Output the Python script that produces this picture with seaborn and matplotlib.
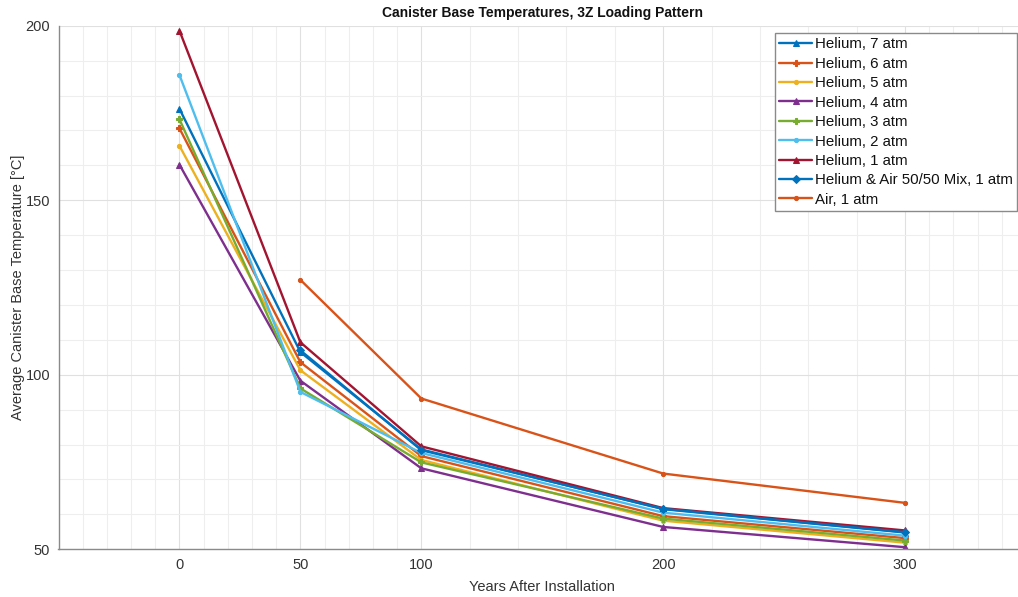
import numpy as np
import pandas as pd
import matplotlib
matplotlib.use("Agg")
import matplotlib.pyplot as plt
from matplotlib.ticker import FixedLocator
import seaborn as sns

# ---- data ----
years = [0, 50, 100, 200, 300]
series_names = ["Helium, 7 atm", "Helium, 6 atm", "Helium, 5 atm", "Helium, 4 atm",
                "Helium, 3 atm", "Helium, 2 atm", "Helium, 1 atm",
                "Helium & Air 50/50 Mix, 1 atm", "Air, 1 atm"]
he7 = [176.2, 106.5, 78.6, 61.5, 54.8]
he6 = [170.6, 103.6, 76.7, 59.5, 53.2]
he5 = [165.6, 101.3, 75.6, 58.2, 51.9]
he4 = [160.2, 98.3, 73.2, 56.4, 50.6]
he3 = [173.2, 96.1, 74.9, 58.8, 52.5]
he2 = [185.9, 95.1, 77.6, 60.5, 53.9]
he1 = [198.6, 109.3, 79.5, 61.8, 55.4]
mix = [np.nan, 107.0, 78.4, 61.6, 54.9]
air = [np.nan, 127.2, 93.2, 71.7, 63.3]
values = [he7, he6, he5, he4, he3, he2, he1, mix, air]

xticks = [0, 50, 100, 200, 300]
yticks = [50, 100, 150, 200]

colors = ["#0072BD", "#D95319", "#EDB120", "#7E2F8E", "#77AC30",
          "#4DBEEE", "#A2142F", "#0072BD", "#D95319"]
markers = ["^", "P", "o", "^", "P", "o", "^", "D", "o"]
msizes = [5, 4, 3, 5, 4, 3, 5, 4, 3]

rows = []
for name, vals in zip(series_names, values):
    for x, v in zip(years, vals):
        rows.append({"Years": x, "Temp": v, "Series": name})
df = pd.DataFrame(rows)

sns.set_theme(style="whitegrid")
plt.rcParams['font.family'] = ['Liberation Sans', 'DejaVu Sans']

fig = plt.figure(figsize=(10.18, 5.97), dpi=100)
ax = fig.add_axes([58.5 / 1018, 1 - 549.3 / 597, (1026 - 58.5) / 1018, (549.3 - 25.7) / 597])
ax.set_facecolor("white")

for name, c, m, ms in zip(series_names, colors, markers, msizes):
    sub = df[df["Series"] == name].dropna()
    sns.lineplot(data=sub, x="Years", y="Temp", ax=ax, color=c, marker=m,
                 markersize=ms, markeredgecolor=c, linewidth=1.7, label=name,
                 sort=False, errorbar=None)

ax.set_xlim(-50, 350)
ax.set_ylim(50, 200)
ax.set_xticks(xticks)
ax.set_yticks(yticks)

# minor ticks: each interval between majors split in 5 (extended at the ends)
ext = [-50] + xticks + [350]
xminor = []
for a, b in zip(ext[:-1], ext[1:]):
    step = (b - a) / 5
    xminor += list(np.arange(a, b, step)[1:])
xminor = [v for v in xminor if v not in xticks]
ax.xaxis.set_minor_locator(FixedLocator(xminor))
ax.yaxis.set_minor_locator(FixedLocator([v for v in range(50, 201, 10) if v % 50]))

ax.grid(which="major", color="#e0e0e0", linewidth=0.8)
ax.grid(which="minor", color="#eeeeee", linewidth=0.8)
ax.set_axisbelow(True)

for side in ["left", "bottom"]:
    ax.spines[side].set_color("#8a8a8a")
    ax.spines[side].set_linewidth(1.0)
for side in ["top", "right"]:
    ax.spines[side].set_visible(False)

ax.tick_params(axis="both", which="major", direction="in", length=5, width=0.8,
               color="#555555", labelsize=10.5, labelcolor="#333333", pad=6)
ax.tick_params(axis="both", which="minor", length=0)

ax.set_xlabel("Years After Installation", fontsize=10.5, color="#333333", labelpad=6)
ax.set_ylabel("Average Canister Base Temperature [\u00b0C]", fontsize=10.5,
              color="#333333")
ax.yaxis.set_label_coords(-0.035, 0.5)
ax.set_title("Canister Base Temperatures, 3Z Loading Pattern", fontsize=10,
             fontweight="bold", color="#111111", pad=6)

leg = ax.legend(loc="upper right", bbox_to_anchor=(1017 / 1018, 1 - 33 / 597),
                bbox_transform=fig.transFigure, fontsize=10.8, frameon=True,
                fancybox=False, edgecolor="#8a8a8a", framealpha=1,
                handlelength=2.2, handletextpad=0.15, labelspacing=0.36,
                borderpad=0.3, borderaxespad=0)
leg.get_frame().set_linewidth(1.0)
for t in leg.get_texts():
    t.set_color("#111111")

fig.savefig("out.png", dpi=100)
